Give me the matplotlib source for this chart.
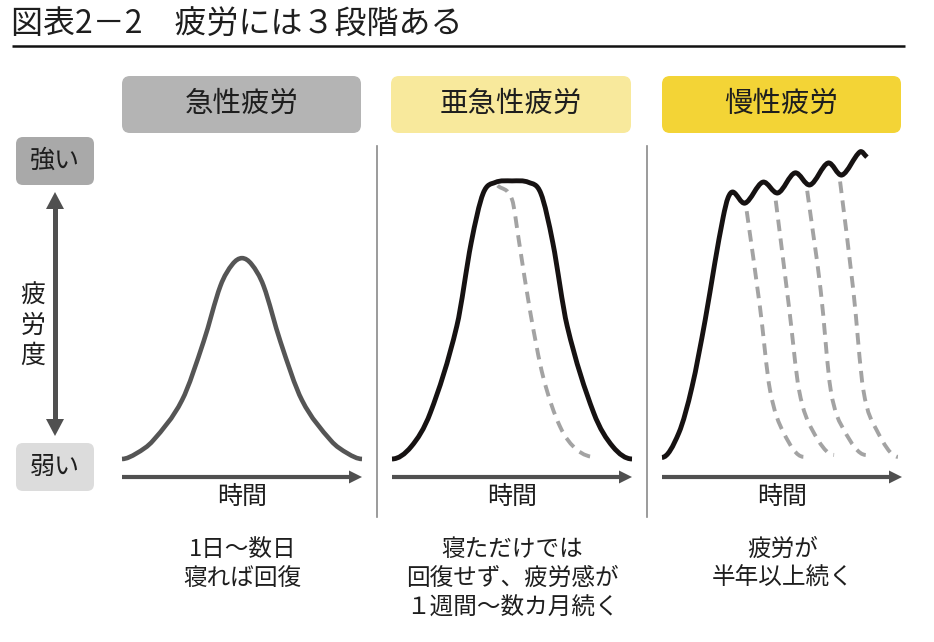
import numpy as np
import matplotlib
matplotlib.use("Agg")
import matplotlib.pyplot as plt
from matplotlib.path import Path
from matplotlib.patches import PathPatch, FancyBboxPatch, Polygon

plt.rcParams['font.family'] = ['Noto Sans CJK JP', 'DejaVu Sans']

# ---------------- data (time 0-100, fatigue 0-100) ----------------
title = "図表2－2　疲労には３段階ある"
stage_names = ["急性疲労", "亜急性疲労", "慢性疲労"]
stage_colors = ["#b4b4b4", "#f8e99c", "#f3d436"]
time_label = "時間"
axis_label = "疲労度"
strong_label = "強い"
weak_label = "弱い"
descriptions = [
    ["1日〜数日", "寝れば回復"],
    ["寝ただけでは", "回復せず、疲労感が", "１週間〜数カ月続く"],
    ["疲労が", "半年以上続く"],
]

acute_t = [0, 6, 13, 25, 34, 41, 46, 50, 54, 59, 66, 75, 87, 94, 100]
acute_f = [0, 1.8, 6, 19, 38, 56, 63, 65, 63, 56, 38, 19, 6, 1.8, 0]

subacute_t = [0, 8, 16, 27, 33, 38, 43, 50, 57, 62, 67, 73, 84, 92, 100]
subacute_f = [0, 4, 15, 43, 70, 86, 89.5, 90, 89.5, 86, 70, 43, 15, 4, 0]

subacute_recovery_t = [44, 50, 53, 57.5, 63, 70, 77, 85]
subacute_recovery_f = [88.5, 84, 70, 48, 26.5, 10.5, 3, 0.6]

chronic_t = [0, 7, 12.5, 18, 22, 25.5, 27.5, 29.6, 34.6, 42, 48.3, 55.4, 61.7, 69.2, 75, 82.5, 85.4]
chronic_f = [0.5, 8.4, 23.3, 45, 63.4, 78.3, 84.5, 86.4, 82.8, 89.6, 86.1, 92.6, 88.7, 95.8, 91.9, 99.4, 97.7]

chronic_recovery_t = [
    [35.3, 40.8, 45.0, 50.6, 58.9],
    [47.4, 52.9, 57.1, 62.6, 71.7],
    [60.5, 66.1, 70.3, 75.8, 84.9],
    [74.2, 79.7, 83.9, 89.4, 98.3],
]
chronic_recovery_f = [
    [80.2, 49.3, 22.3, 8.6, 0.7],
    [83.6, 49.3, 22.3, 9.4, 1.3],
    [86.8, 54.7, 22.3, 9.4, 1.3],
    [89.8, 54.7, 22.3, 9.4, 0.7],
]

# ---------------- helpers ----------------
W, H = 934, 642


def smooth_path(t, f, flat_start=False, flat_end=False):
    """Cubic Hermite (x-parameterised) curve through the points, as Bezier path."""
    t = np.asarray(t, float)
    f = np.asarray(f, float)
    n = len(t)
    m = np.zeros(n)
    m[0] = 0.0 if flat_start else (f[1] - f[0]) / (t[1] - t[0])
    m[-1] = 0.0 if flat_end else (f[-1] - f[-2]) / (t[-1] - t[-2])
    for i in range(1, n - 1):
        m[i] = (f[i + 1] - f[i - 1]) / (t[i + 1] - t[i - 1])
    verts = [(t[0], f[0])]
    codes = [Path.MOVETO]
    for i in range(n - 1):
        dx = t[i + 1] - t[i]
        verts += [(t[i] + dx / 3, f[i] + m[i] * dx / 3),
                  (t[i + 1] - dx / 3, f[i + 1] - m[i + 1] * dx / 3),
                  (t[i + 1], f[i + 1])]
        codes += [Path.CURVE4] * 3
    return Path(verts, codes)


def draw_curve(ax, t, f, color, lw, dashed=False, flat_start=False, flat_end=False):
    ls = (0, (3.0, 1.9)) if dashed else '-'
    patch = PathPatch(smooth_path(t, f, flat_start, flat_end), fill=False,
                      edgecolor=color, lw=lw, linestyle=ls, capstyle='butt',
                      joinstyle='round', clip_on=False)
    ax.add_patch(patch)


fig = plt.figure(figsize=(W / 100, H / 100), dpi=100)
ov = fig.add_axes([0, 0, 1, 1])
ov.set_xlim(0, W)
ov.set_ylim(H, 0)
ov.axis('off')

txt_color = "#1e1e1e"


def rbox(x0, y0, x1, y1, color, r=8):
    p = FancyBboxPatch((x0 + r, y0 + r), (x1 - x0) - 2 * r, (y1 - y0) - 2 * r,
                       boxstyle=f"round,pad={r}", facecolor=color,
                       edgecolor='none')
    ov.add_patch(p)


# title
ov.text(11, 24, title, fontsize=23, color=txt_color, va='center', ha='left')
ov.plot([12, 905], [46, 46], color='#111111', lw=1.8, solid_capstyle='butt')

# left scale
rbox(16, 137, 94, 185, "#a9a9a9", r=7)
rbox(16, 443, 94, 491, "#dcdcdc", r=7)
ov.text(55, 161, strong_label, fontsize=18, color=txt_color, ha='center', va='center')
ov.text(55, 467, weak_label, fontsize=18, color=txt_color, ha='center', va='center')
arrow_c = "#505050"
ov.plot([55, 55], [205, 423], color=arrow_c, lw=3.6, solid_capstyle='butt')
ov.add_patch(Polygon([[55, 192], [46, 209], [64, 209]], closed=True,
                     facecolor=arrow_c, edgecolor='none'))
ov.add_patch(Polygon([[55, 436], [46, 419], [64, 419]], closed=True,
                     facecolor=arrow_c, edgecolor='none'))
for k, ch in enumerate(axis_label):
    ov.text(33, 296 + k * 30, ch, fontsize=18, color=txt_color,
            ha='center', va='center')

# dividers
for xd in (377, 647):
    ov.plot([xd, xd], [146, 517], color='#8a8a8a', lw=1.2)

panels = [(122, 362), (392, 632), (662, 902)]
box_ranges = [(122, 361), (391, 631), (662, 901)]
y_top_px, y_bot_px = 150.0, 477.5

for i, ((x0, x1), (bx0, bx1)) in enumerate(zip(panels, box_ranges)):
    cx = (bx0 + bx1) / 2
    rbox(bx0, 76, bx1, 133, stage_colors[i], r=8)
    ov.text(cx, 104, stage_names[i], fontsize=20.5, color=txt_color,
            ha='center', va='center')
    # time arrow
    ov.plot([x0, x1 - 10], [477, 477], color=arrow_c, lw=3.0, solid_capstyle='butt')
    ov.add_patch(Polygon([[x1, 477], [x1 - 13, 470.5], [x1 - 13, 483.5]],
                         closed=True, facecolor=arrow_c, edgecolor='none'))
    ov.text(cx + 1, 497, time_label, fontsize=18, color=txt_color,
            ha='center', va='center')
    for j, line in enumerate(descriptions[i]):
        ov.text(cx + 1, 549 + j * 29.5, line, fontsize=17, color=txt_color,
                ha='center', va='center')

# panel axes for curves
axes = []
for (x0, x1) in panels:
    a = fig.add_axes([x0 / W, (H - y_bot_px) / H, (x1 - x0) / W,
                      (y_bot_px - y_top_px) / H])
    a.set_xlim(0, 100)
    a.set_ylim(-6, 100)
    a.axis('off')
    a.patch.set_alpha(0)
    axes.append(a)

dash_c = "#a3a3a3"
draw_curve(axes[0], acute_t, acute_f, "#555555", 3.3, flat_start=True, flat_end=True)

draw_curve(axes[1], subacute_recovery_t, subacute_recovery_f, dash_c, 2.8,
           dashed=True, flat_end=True)
draw_curve(axes[1], subacute_t, subacute_f, "#161212", 3.5, flat_start=True, flat_end=True)

for rt, rf in zip(chronic_recovery_t, chronic_recovery_f):
    draw_curve(axes[2], rt, rf, dash_c, 2.8, dashed=True, flat_end=True)
draw_curve(axes[2], chronic_t, chronic_f, "#161212", 3.5, flat_start=True)

fig.savefig("out.png", dpi=100)
